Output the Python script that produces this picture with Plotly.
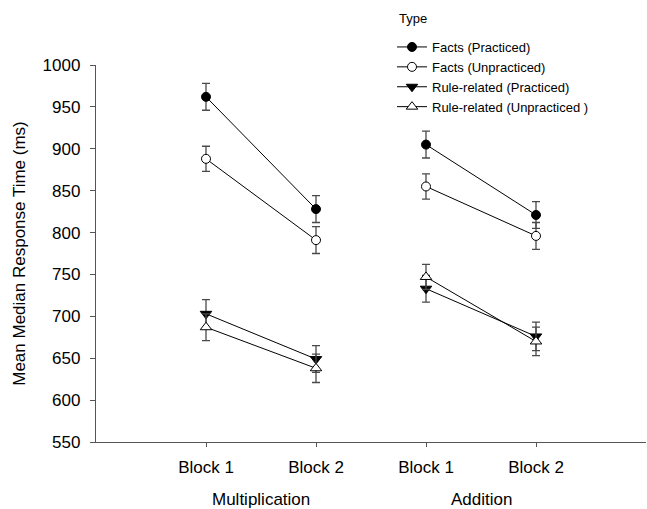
import plotly.graph_objects as go

# Data
positions = [1, 2, 3, 4]
tick_labels = ["Block 1", "Block 2", "Block 1", "Block 2"]
groups = ["Multiplication", "Addition"]
group_centers = [1.5, 3.5]

series_names = ["Facts (Practiced)", "Facts (Unpracticed)",
                "Rule-related (Practiced)", "Rule-related (Unpracticed )"]
facts_practiced = [962, 828, 905, 821]
facts_unpracticed = [888, 791, 855, 796]
rule_practiced = [703, 649, 733, 676]
rule_unpracticed = [687, 638, 747, 670]
err_facts_practiced = [16, 16, 16, 16]
err_facts_unpracticed = [15, 16, 15, 16]
err_rule_practiced = [17, 16, 16, 17]
err_rule_unpracticed = [16, 17, 15, 17]

values = [facts_practiced, facts_unpracticed, rule_practiced, rule_unpracticed]
errors = [err_facts_practiced, err_facts_unpracticed, err_rule_practiced, err_rule_unpracticed]
symbols = ["circle", "circle", "triangle-down", "triangle-up"]
fills = ["black", "white", "black", "white"]
sizes = [9, 9, 10, 10]

FONT = "Liberation Sans, Arial, sans-serif"

fig = go.Figure()
for name, vals, errs, sym, fill, sz in zip(series_names, values, errors, symbols, fills, sizes):
    xs = [positions[0], positions[1], None, positions[2], positions[3]]
    ys = [vals[0], vals[1], None, vals[2], vals[3]]
    es = [errs[0], errs[1], None, errs[2], errs[3]]
    fig.add_trace(go.Scatter(
        x=xs, y=ys, name=name, mode="lines+markers",
        connectgaps=False,
        line=dict(color="black", width=1),
        marker=dict(symbol=sym, size=sz, color=fill,
                    line=dict(color="black", width=1)),
        error_y=dict(type="data", array=es, visible=True, color="#4a4a4a",
                     thickness=1.3, width=4),
    ))

for g, c in zip(groups, group_centers):
    fig.add_annotation(x=c, xref="x", y=-57 / 377, yref="paper", text=g,
                       showarrow=False, font=dict(size=17, color="black", family=FONT),
                       yanchor="middle")

fig.add_annotation(x=(397 - 96) / 550, xref="paper", y=1 + (65 - 18) / 377, yref="paper",
                   text="Type", showarrow=False, xanchor="left", yanchor="middle",
                   font=dict(size=13, color="black", family=FONT))

fig.update_layout(
    width=647, height=509,
    margin=dict(l=96, r=1, t=65, b=67, autoexpand=False),
    paper_bgcolor="white", plot_bgcolor="white",
    font=dict(family=FONT, color="black", size=17),
    showlegend=True,
    legend=dict(xref="container", yref="container", x=392/647, y=1 - 32/509,
                xanchor="left", yanchor="top", font=dict(size=13, family=FONT),
                itemwidth=30, bgcolor="rgba(0,0,0,0)", tracegroupgap=0),
    xaxis=dict(range=[0, 5], tickvals=positions, ticktext=tick_labels,
               showline=True, linecolor="#555555", linewidth=1.3,
               ticks="outside", ticklen=4, tickcolor="#555555",
               showgrid=False, zeroline=False, ticklabelstandoff=5,
               tickfont=dict(size=17)),
    yaxis=dict(range=[550, 1000], tickvals=list(range(550, 1001, 50)),
               showline=True, linecolor="#555555", linewidth=1.3,
               ticks="outside", ticklen=5, tickcolor="#555555",
               showgrid=False, zeroline=False, ticklabelstandoff=6,
               tickfont=dict(size=17),
               title=dict(text="Mean Median Response Time (ms)", font=dict(size=17), standoff=12)),
)

fig.write_html("out.html")
